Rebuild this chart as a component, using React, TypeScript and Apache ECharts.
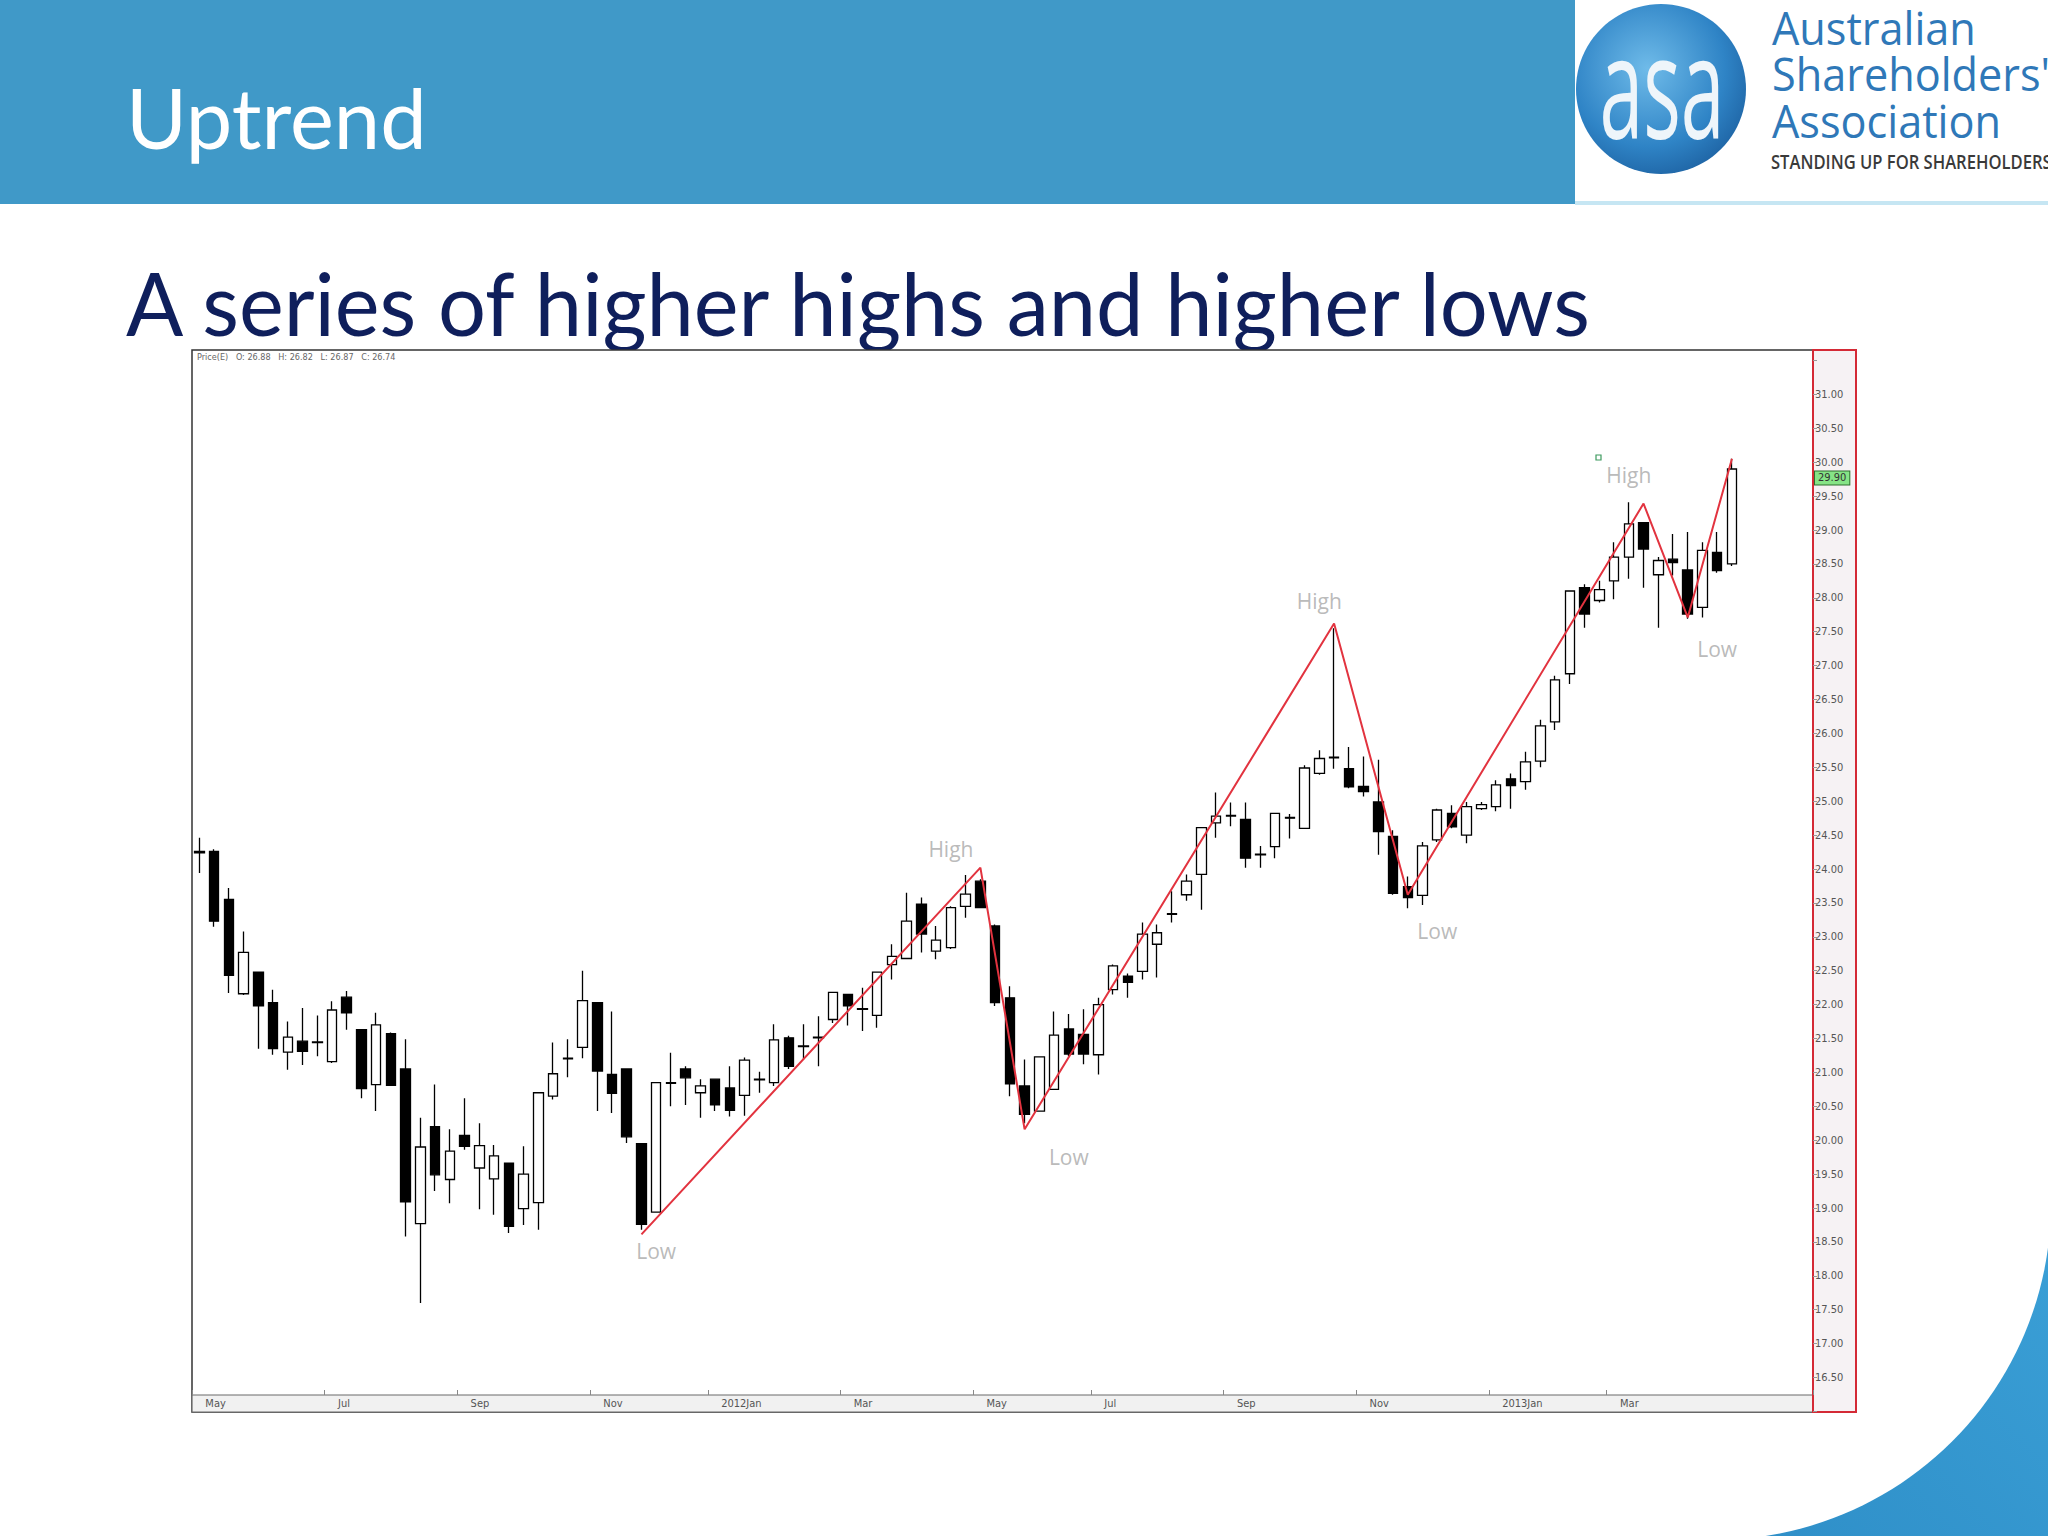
import React, { useEffect, useRef } from "react";
import * as echarts from "echarts";

// ---- Data (weekly candles, May 2011 – Apr 2013) ----
const opens = [
  24.26, 24.26, 23.55, 22.16, 22.48, 22.03, 21.30, 21.46, 21.44, 21.16,
  22.11, 21.63, 20.82, 21.57, 21.05, 18.77, 20.20, 19.42, 20.07, 19.59,
  19.43, 19.66, 18.99, 19.08, 20.65, 21.21, 21.37, 22.03, 20.97, 21.05,
  19.95, 18.94, 20.85, 21.05, 20.70, 20.90, 20.77, 20.66, 20.90, 20.85,
  21.51, 21.38, 21.51, 21.78, 22.15, 21.93, 21.84, 22.59, 22.68, 23.48,
  22.79, 22.84, 23.45, 23.82, 23.16, 22.10, 20.80, 20.43, 20.75, 21.64,
  21.56, 21.26, 22.22, 22.42, 22.49, 22.89, 23.33, 23.62, 23.92, 24.68,
  24.78, 24.73, 24.22, 24.33, 24.76, 24.60, 25.41, 25.64, 25.48, 25.22,
  24.99, 24.48, 23.74, 23.61, 24.43, 24.82, 24.50, 24.89, 24.92, 25.33,
  25.29, 25.59, 26.17, 26.88, 28.15, 27.96, 28.25, 28.60, 29.11, 28.34,
  28.57, 28.41, 27.86, 28.67, 28.50,
];
const closes = [
  24.24, 23.23, 22.43, 22.77, 21.98, 21.35, 21.52, 21.31, 21.45, 21.92,
  21.88, 20.76, 21.70, 20.81, 19.09, 19.90, 19.49, 19.84, 19.91, 19.92,
  19.77, 18.73, 19.50, 20.70, 20.98, 21.20, 22.06, 21.02, 20.69, 20.05,
  18.76, 20.85, 20.84, 20.92, 20.80, 20.52, 20.44, 21.18, 20.89, 21.48,
  21.09, 21.39, 21.52, 22.18, 21.98, 21.94, 22.48, 22.71, 23.23, 23.04,
  22.95, 23.43, 23.63, 23.43, 22.03, 20.83, 20.38, 21.23, 21.55, 21.27,
  21.27, 22.00, 22.57, 22.33, 23.04, 23.06, 23.34, 23.82, 24.61, 24.78,
  24.79, 24.16, 24.21, 24.82, 24.75, 25.49, 25.63, 25.65, 25.21, 25.14,
  24.55, 23.64, 23.58, 24.34, 24.87, 24.62, 24.92, 24.95, 25.24, 25.23,
  25.58, 26.11, 26.79, 28.10, 27.76, 28.12, 28.60, 29.09, 28.72, 28.55,
  28.52, 27.76, 28.70, 28.40, 29.90,
];
const lows = [
  23.94, 23.15, 22.17, 22.14, 21.35, 21.26, 21.04, 21.11, 21.24, 21.14,
  21.63, 20.62, 20.43, 20.81, 18.58, 17.60, 19.25, 19.07, 19.86, 18.98,
  18.90, 18.63, 18.75, 18.68, 20.60, 20.93, 21.21, 20.43, 20.40, 19.96,
  18.68, 18.94, 20.50, 20.52, 20.33, 20.43, 20.35, 20.36, 20.70, 20.80,
  21.05, 21.19, 21.09, 21.73, 21.69, 21.61, 21.66, 22.37, 22.68, 22.77,
  22.67, 22.82, 23.28, 23.43, 21.98, 20.65, 20.25, 20.43, 20.75, 21.24,
  21.12, 20.97, 22.15, 22.10, 22.37, 22.40, 23.21, 23.53, 23.40, 24.46,
  24.63, 24.02, 24.02, 24.16, 24.45, 24.60, 25.39, 25.48, 25.19, 25.07,
  24.21, 23.62, 23.42, 23.47, 24.40, 24.60, 24.38, 24.87, 24.85, 24.89,
  25.17, 25.50, 26.05, 26.73, 27.56, 27.93, 27.98, 28.28, 28.15, 27.56,
  28.33, 27.69, 27.71, 28.37, 28.47,
];
const highs = [
  24.46, 24.29, 23.72, 23.08, 22.48, 22.22, 21.75, 21.95, 21.84, 22.05,
  22.20, 21.63, 21.88, 21.59, 21.49, 20.33, 20.82, 20.16, 20.62, 20.25,
  19.93, 19.66, 19.91, 20.70, 21.44, 21.49, 22.50, 22.03, 21.90, 21.05,
  19.95, 20.85, 21.29, 21.09, 20.90, 20.90, 21.09, 21.22, 21.01, 21.71,
  21.54, 21.71, 21.83, 22.18, 22.15, 22.25, 22.48, 22.89, 23.65, 23.58,
  23.16, 23.45, 23.91, 23.85, 23.18, 22.27, 21.19, 21.23, 21.90, 21.86,
  21.93, 22.10, 22.59, 22.46, 23.21, 23.18, 23.67, 23.92, 24.61, 25.13,
  24.98, 24.98, 24.34, 24.82, 24.81, 25.53, 25.75, 27.55, 25.80, 25.66,
  25.61, 24.57, 23.89, 24.40, 24.89, 24.94, 24.99, 24.99, 25.31, 25.41,
  25.73, 26.20, 26.85, 28.10, 28.20, 28.25, 28.82, 29.41, 29.11, 28.60,
  28.94, 28.97, 28.82, 28.97, 30.05,
];
const firstWeek = "2011-05-02";
const blankWeeksAfter = 5;
const lastPrice = 29.9;

// zig-zag trend line: [candle index, price]
const zigzagIdx = [30, 53, 56, 77, 82, 98, 101, 104];
const zigzagPrice = [18.61, 24.02, 20.16, 27.62, 23.62, 29.39, 27.71, 30.05];

// swing labels
const swingText = ["Low", "High", "Low", "High", "Low", "High", "Low"];
const swingIdx = [31, 51, 59, 76, 84, 97, 103];
const swingPrice = [18.37, 24.3, 19.75, 27.95, 23.08, 29.81, 27.25];

const monthNames = ["Jan", "Feb", "Mar", "Apr", "May", "Jun", "Jul", "Aug", "Sep", "Oct", "Nov", "Dec"];

function buildWeeks(start: string, count: number): string[] {
  const out: string[] = [];
  const d0 = new Date(start + "T00:00:00Z").getTime();
  for (let i = 0; i < count; i++) {
    const d = new Date(d0 + i * 7 * 86400000);
    out.push(d.toISOString().slice(0, 10));
  }
  return out;
}

const weeks = buildWeeks(firstWeek, opens.length + blankWeeksAfter);

function isLabelWeek(i: number, v: string): boolean {
  if (i >= opens.length) return false;
  const m = parseInt(v.slice(5, 7), 10) - 1;
  const day = parseInt(v.slice(8, 10), 10);
  return day <= 7 && m % 2 === 0;
}

export default function App() {
  const ref = useRef<HTMLDivElement>(null);
  useEffect(() => {
    if (!ref.current) return;
    const chart = echarts.init(ref.current, undefined, { renderer: "svg" });
    const candleData = opens.map((o, i) => [o, closes[i], lows[i], highs[i]]);
    const narrow = "'Liberation Sans Narrow', 'DejaVu Sans Condensed', 'Liberation Sans', sans-serif";

    const option: any = {
      animation: false,
      backgroundColor: "#ffffff",
      grid: { left: 192, right: 235, top: 360.5, bottom: 124.6, containLabel: false },
      xAxis: {
        type: "category",
        data: weeks,
        boundaryGap: true,
        position: "bottom",
        offset: -16.4,
        z: 10,
        axisLine: { show: false },
        axisTick: {
          show: true,
          inside: true,
          length: 5,
          interval: (i: number, v: string) => isLabelWeek(i, v),
          lineStyle: { color: "#888", width: 1 },
        },
        axisLabel: {
          interval: (i: number, v: string) => isLabelWeek(i, v),
          formatter: (v: string) => {
            const m = parseInt(v.slice(5, 7), 10) - 1;
            return m === 0 ? v.slice(0, 4) + "Jan" : monthNames[m];
          },
          align: "left",
          margin: 3,
          padding: [0, 0, 0, 6],
          fontSize: 11,
          color: "#555",
          fontFamily: narrow,
        },
        splitLine: { show: false },
      },
      yAxis: {
        type: "value",
        position: "right",
        min: 16,
        max: 31.5,
        interval: 0.5,
        z: 10,
        axisLine: { show: false },
        axisTick: { show: true, length: 4, lineStyle: { color: "#999" } },
        axisLabel: {
          formatter: (v: number) => (v < 16.49 || v > 31.01 ? "" : v.toFixed(2)),
          fontSize: 11,
          color: "#555",
          margin: 2,
          fontFamily: narrow,
        },
        splitLine: { show: false },
      },
      series: [
        {
          type: "candlestick",
          data: candleData,
          barWidth: 10,
          z: 5,
          itemStyle: {
            color: "#ffffff",
            color0: "#000000",
            borderColor: "#000000",
            borderColor0: "#000000",
            borderColorDoji: "#000000",
            borderWidth: 1.3,
          },
          markLine: {
            silent: true,
            symbol: ["none", "none"],
            data: [{ yAxis: lastPrice }],
            lineStyle: { color: "transparent", width: 0 },
            label: {
              show: true,
              position: "end",
              formatter: lastPrice.toFixed(2),
              backgroundColor: "#86e486",
              borderColor: "#2f6f2f",
              borderWidth: 1,
              padding: [1, 3],
              fontSize: 11,
              color: "#333",
              distance: 2,
              offset: [0, 9],
              fontFamily: narrow,
            },
          },
        },
        {
          type: "line",
          data: zigzagIdx.map((x, i) => [x, zigzagPrice[i]]),
          symbol: "none",
          z: 6,
          lineStyle: { color: "#e2333f", width: 2 },
        },
        {
          type: "scatter",
          silent: true,
          symbolSize: 1,
          z: 7,
          itemStyle: { color: "transparent" },
          data: swingIdx.map((x, i) => ({ value: [x, swingPrice[i]], name: swingText[i] })),
          label: {
            show: true,
            position: "inside",
            formatter: "{b}",
            color: "#a8a8a8",
            fontSize: 21,
            fontFamily: "'Open Sans', sans-serif",
          },
        },
      ],
      graphic: {
        elements: [
          // bottom-right swoosh
          {
            type: "rect",
            z: 0,
            shape: { x: 1755, y: 1238, width: 293, height: 298 },
            style: {
              fill: {
                type: "linear", x: 1, y: 0, x2: 0, y2: 1,
                colorStops: [
                  { offset: 0, color: "#3a9fd6" },
                  { offset: 1, color: "#2f8fc8" },
                ],
              },
            },
          },
          {
            type: "circle",
            z: 1,
            shape: { cx: 1714, cy: 1203, r: 337 },
            style: { fill: "#ffffff" },
          },
          // header bar
          {
            type: "rect",
            z: 1,
            shape: { x: 0, y: 0, width: 1575, height: 204 },
            style: { fill: "#4099c8" },
          },
          {
            type: "rect",
            z: 1,
            shape: { x: 1575, y: 201, width: 473, height: 4 },
            style: { fill: "#c6e6f3" },
          },
          {
            type: "text",
            z: 2,
            x: 126,
            y: 117,
            style: {
              text: "Uptrend",
              fill: "#ffffff",
              fontSize: 83,
              fontFamily: "Lato, 'Open Sans', sans-serif",
              textAlign: "left",
              textVerticalAlign: "middle",
            },
          },
          // logo
          {
            type: "circle",
            z: 2,
            shape: { cx: 1661, cy: 89, r: 85 },
            style: {
              fill: {
                type: "radial", x: 0.42, y: 0.38, r: 0.7,
                colorStops: [
                  { offset: 0, color: "#6fbbe9" },
                  { offset: 0.65, color: "#2f84c6" },
                  { offset: 1, color: "#1c5f9f" },
                ],
              },
            },
          },
          {
            type: "text",
            z: 3,
            x: 1662,
            y: 84,
            scaleX: 0.58,
            scaleY: 1.05,
            style: {
              text: "asa",
              fill: "#eef5fa",
              fontSize: 136,
              fontFamily: "'Open Sans', sans-serif",
              textAlign: "center",
              textVerticalAlign: "middle",
            },
          },
          {
            type: "text", z: 3, x: 1772, y: 27, scaleX: 0.94,
            style: { text: "Australian", fill: "#2f78b8", fontSize: 46, fontFamily: "'Open Sans', sans-serif", textAlign: "left", textVerticalAlign: "middle" },
          },
          {
            type: "text", z: 3, x: 1772, y: 73, scaleX: 0.94,
            style: { text: "Shareholders'", fill: "#2f78b8", fontSize: 46, fontFamily: "'Open Sans', sans-serif", textAlign: "left", textVerticalAlign: "middle" },
          },
          {
            type: "text", z: 3, x: 1772, y: 120, scaleX: 0.94,
            style: { text: "Association", fill: "#2f78b8", fontSize: 46, fontFamily: "'Open Sans', sans-serif", textAlign: "left", textVerticalAlign: "middle" },
          },
          {
            type: "text", z: 3, x: 1771, y: 161, scaleX: 0.83,
            style: { text: "STANDING UP FOR SHAREHOLDERS", fill: "#3a3a3a", fontSize: 20, fontWeight: 600, fontFamily: "'Open Sans', sans-serif", textAlign: "left", textVerticalAlign: "middle" },
          },
          // subtitle
          {
            type: "text",
            z: 2,
            x: 126,
            y: 302,
            scaleX: 0.963,
            style: {
              text: "A series of higher highs and higher lows",
              fill: "#0f1f5c",
              fontSize: 88,
              fontFamily: "Lato, 'Open Sans', sans-serif",
              textAlign: "left",
              textVerticalAlign: "middle",
            },
          },
          // chart frame
          {
            type: "rect",
            z: 2,
            shape: { x: 192, y: 350, width: 1621, height: 1062 },
            style: { fill: "#ffffff", stroke: "#333333", lineWidth: 1.5 },
          },
          {
            type: "rect",
            z: 2,
            shape: { x: 192, y: 1395, width: 1621, height: 17 },
            style: { fill: "#f1f1f1", stroke: "#6a6a6a", lineWidth: 1.2 },
          },
          {
            type: "rect",
            z: 2,
            shape: { x: 1813, y: 350, width: 43, height: 1062 },
            style: { fill: "#f6f2f4", stroke: "#d42a36", lineWidth: 2 },
          },
          {
            type: "text",
            z: 3,
            x: 197,
            y: 357,
            style: {
              text: "Price(E)   O: 26.88   H: 26.82   L: 26.87   C: 26.74",
              fill: "#666",
              fontSize: 9,
              fontFamily: narrow,
              textAlign: "left",
              textVerticalAlign: "middle",
            },
          },
          {
            type: "rect",
            z: 3,
            shape: { x: 1596, y: 455, width: 5, height: 5 },
            style: { fill: "none", stroke: "#3c9a5e", lineWidth: 1.2 },
          },
        ],
      },
    };
    chart.setOption(option);
    return () => chart.dispose();
  }, []);

  return (
    <div
      ref={ref}
      style={{ position: "absolute", left: 0, top: 0, width: 2048, height: 1536, background: "#fff" }}
    />
  );
}
